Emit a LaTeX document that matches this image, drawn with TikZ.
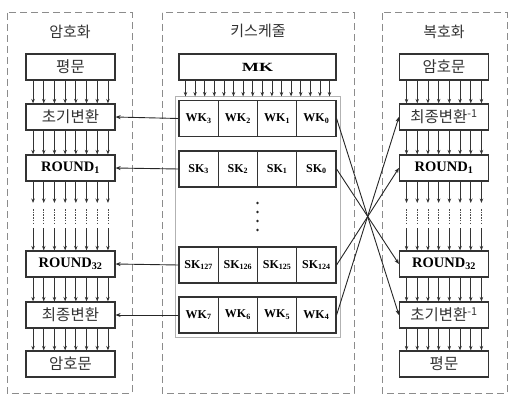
\documentclass[tikz,border=0pt]{standalone}
\usepackage{fontspec}
\setmainfont{Liberation Serif}
\newfontfamily\kr{Noto Sans CJK KR}
\usetikzlibrary{arrows.meta}
\newcommand\mysub[1]{\textsubscript{#1}}
\newcommand\myinv{\textsuperscript{-1}}
\begin{document}
\begin{tikzpicture}[x=1pt,y=-1pt,
  arr/.style={draw=black!80, line width=0.8pt, -{Stealth[length=4.5pt,width=3.5pt]}},
  dots/.style={draw=black!70, line width=0.8pt, dash pattern=on 1.5pt off 1.2pt},
  link/.style={draw=black!85, line width=0.9pt, -{Stealth[length=5pt,width=4pt]}},
  box/.style={draw=black!80, line width=1.2pt, minimum width=89pt, minimum height=26pt, inner sep=0pt, fill=white},
  krtext/.style={font=\kr\fontsize{15.5}{16}\selectfont, text=black!80},
  rtext/.style={font=\bfseries\fontsize{14.5}{15}\selectfont},
  cell/.style={draw=black!80, line width=1.1pt, minimum width=39.25pt, minimum height=36pt, inner sep=0pt, font=\bfseries\fontsize{12}{12}\selectfont},
  frame/.style={draw=black!45, line width=1pt, dash pattern=on 7pt off 4pt},
  title/.style={font=\kr\fontsize{15}{15}\selectfont, text=black!80},
]
\path[use as bounding box] (0,0) rectangle (520,404);

% frames
\draw[frame] (7,13) rectangle (132,393);
\draw[frame] (162,13) rectangle (354,393);
\draw[frame] (382,13) rectangle (507,393);

\node[title] (t1) at (70,32) {암호화};
\node[title] (t2) at (258,31) {키스케줄};
\node[title] (t3) at (444,32) {복호화};

% left column
\node[box, krtext] (lp)  at (70.5,67)  {평문};
\node[box, krtext] (li)  at (70.5,117) {초기변환};
\node[box, rtext]  (lr1) at (70.5,168) {ROUND\mysub{1}};
\node[box, rtext]  (lr2) at (70.5,264) {ROUND\mysub{32}};
\node[box, krtext] (lf)  at (70.5,315) {최종변환};
\node[box, krtext] (lc)  at (70.5,364) {암호문};
\coordinate (la) at (70.5,203);
\coordinate (lb) at (70.5,209);
\coordinate (lcc) at (70.5,223);
\coordinate (ld) at (70.5,228);

% right column
\node[box, krtext] (rc)  at (444,67)  {암호문};
\node[box, krtext] (rf)  at (444,117) {최종변환\myinv};
\node[box, rtext]  (rr1) at (444,168) {ROUND\mysub{1}};
\node[box, rtext]  (rr2) at (444,264) {ROUND\mysub{32}};
\node[box, krtext] (ri)  at (444,315) {초기변환\myinv};
\node[box, krtext] (rp)  at (444,364) {평문};
\coordinate (ra) at (444,203);
\coordinate (rb) at (444,209);
\coordinate (rcc) at (444,223);
\coordinate (rd) at (444,228);

% bundles of 8 arrows
\foreach \s/\t in {lp/li, li/lr1, lr2/lf, lf/lc, rc/rf, rf/rr1, rr2/ri, ri/rp}{
  \foreach \i in {0,...,7}{
    \draw[arr] ([xshift={(\i-3.5)*10.7}]\s.south) -- ([xshift={(\i-3.5)*10.7}]\t.north);
  }
}
\foreach \s/\a/\b/\c/\d/\t in {lr1/la/lb/lcc/ld/lr2, rr1/ra/rb/rcc/rd/rr2}{
  \foreach \i in {0,...,7}{
    \draw[arr] ([xshift={(\i-3.5)*10.7}]\s.south) -- ([xshift={(\i-3.5)*10.7}]\a);
    \draw[dots] ([xshift={(\i-3.5)*10.7}]\b) -- ([xshift={(\i-3.5)*10.7}]\c);
    \draw[arr] ([xshift={(\i-3.5)*10.7}]\d) -- ([xshift={(\i-3.5)*10.7}]\t.north);
  }
}

% key schedule
\node[draw=black!30, line width=1pt, minimum width=165pt, minimum height=240pt, inner sep=0pt] (ks) at (257.5,217) {};
\node[box, minimum width=157pt, font=\bfseries\fontsize{12.5}{13}\selectfont] (mk) at (257.5,67) {\scalebox{1.45}[1]{MK}};
\foreach \i in {0,...,15}{
  \draw[arr] ([xshift={(\i-7.5)*9.6}]mk.south) -- ([xshift={(\i-7.5)*9.6}]ks.north);
}

\node[cell] (wk3) at (198.6,118.5) {WK\mysub{3}};
\node[cell] (wk2) at (237.9,118.5) {WK\mysub{2}};
\node[cell] (wk1) at (277.1,118.5) {WK\mysub{1}};
\node[cell] (wk0) at (316.4,118.5) {WK\mysub{0}};

\node[cell] (sk3) at (198.6,169) {SK\mysub{3}};
\node[cell] (sk2) at (237.9,169) {SK\mysub{2}};
\node[cell] (sk1) at (277.1,169) {SK\mysub{1}};
\node[cell] (sk0) at (316.4,169) {SK\mysub{0}};

\node[cell] (sk127) at (198.6,265) {SK\mysub{127}};
\node[cell] (sk126) at (237.9,265) {SK\mysub{126}};
\node[cell] (sk125) at (277.1,265) {SK\mysub{125}};
\node[cell] (sk124) at (316.4,265) {SK\mysub{124}};

\node[cell] (wk7) at (198.6,315) {WK\mysub{7}};
\node[cell] (wk6) at (237.9,315) {WK\mysub{6}};
\node[cell] (wk5) at (277.1,315) {WK\mysub{5}};
\node[cell] (wk4) at (316.4,315) {WK\mysub{4}};

\foreach \y [count=\k] in {203,212,221,230}{
  \fill[black!85] (257.5,\y) circle (1.3pt) coordinate (dot\k);
}

% connectors
\draw[link] (wk3.west) -- (li.east);
\draw[link] (sk3.west) -- (lr1.east);
\draw[link] (sk127.west) -- (lr2.east);
\draw[link] (wk7.west) -- (lf.east);

\draw[link] (wk0.east) -- (ri.west);
\draw[link] (sk0.east) -- (rr2.west);
\draw[link] (sk124.east) -- (rr1.west);
\draw[link] (wk4.east) -- (rf.west);
\end{tikzpicture}
\end{document}
